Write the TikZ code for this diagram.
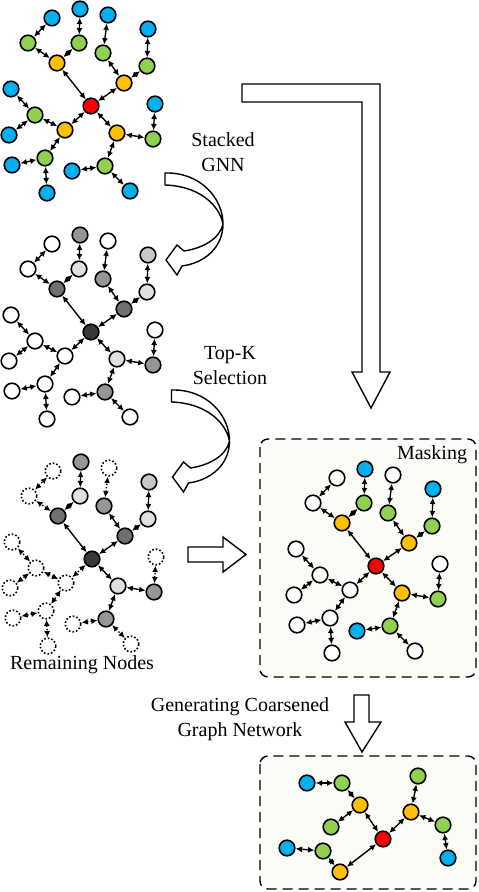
\documentclass[tikz,border=0pt]{standalone}
\usepackage{fontspec}
\setmainfont{Liberation Serif}
\usepackage{xcolor}
\usepackage{tikz}
\usetikzlibrary{arrows.meta}
\definecolor{nodeblue}{RGB}{0,176,240}
\definecolor{nodegreen}{RGB}{146,208,80}
\definecolor{nodeorange}{RGB}{255,192,0}
\definecolor{nodered}{RGB}{255,0,0}
\definecolor{shadedark}{RGB}{56,56,56}
\definecolor{shademid}{RGB}{112,112,112}
\definecolor{shadegray}{RGB}{150,150,150}
\definecolor{shadesoft}{RGB}{200,200,200}
\definecolor{shadelight}{RGB}{224,224,224}
\definecolor{boxfill}{RGB}{252,252,247}
\newcommand{\treeedges}{c/o1,c/o2,c/o3,c/o4,o1/g1,o1/g2,o2/g3,o2/g4,o3/g5,o3/g6,o4/g7,o4/g8,
  g1/b1,g2/b2,g3/b3,g4/b4,g5/b5,g5/b6,g6/b7,g6/b8,g7/b9,g8/b10,g8/b11}

\begin{document}
\begin{tikzpicture}[
  x=0.5pt, y=-0.5pt,
  vtx/.style={circle, draw, line width=0.8pt, minimum size=7.8pt, inner sep=0pt},
  ghost/.style={vtx, fill=white, densely dotted},
  link/.style={{Latex[length=3.2pt,width=3pt]}-{Latex[length=3.2pt,width=3pt]}, line width=0.7pt},
  dlink/.style={link, densely dotted},
  panel/.style={draw, dash pattern=on 5pt off 3pt, line width=0.7pt, rounded corners=4pt, fill=boxfill},
  blk/.style={draw, fill=white, line width=0.7pt, line join=miter},
  lbl/.style={align=center, font=\fontsize{10}{12.5}\selectfont}
]
  \useasboundingbox (0,0) rectangle (478,892);

  \draw[panel] (260,439) rectangle (476,677);
  \draw[panel] (260,756) rectangle (476,889);

  % input graph
  \foreach \n/\x/\y/\f in {c/91/106/nodered, o1/57/63/nodeorange, o2/124/83/nodeorange,
      o3/65/130/nodeorange, o4/117/133/nodeorange, g1/28/43/nodegreen, g2/79/43/nodegreen,
      g3/103/53/nodegreen, g4/147/66/nodegreen, g5/35/115/nodegreen, g6/45/158/nodegreen,
      g7/153/139/nodegreen, g8/105/166/nodegreen, b1/52/18/nodeblue, b2/80/9/nodeblue,
      b3/108/15/nodeblue, b4/148/29/nodeblue, b5/11/89/nodeblue, b6/9/135/nodeblue,
      b7/12/165/nodeblue, b8/47/193/nodeblue, b9/155/104/nodeblue, b10/72/171/nodeblue,
      b11/130/191/nodeblue}
    \node[vtx, fill=\f] (in-\n) at (\x,\y) {};
  \foreach \u/\v in \treeedges
    \draw[link] (in-\u) -- (in-\v);

  % scored graph
  \begin{scope}[shift={(0,226)}]
    \foreach \n/\x/\y/\f in {c/91/106/shadedark, o1/57/63/shademid, o2/124/83/shademid,
        o3/65/130/white, o4/117/133/shadelight, g1/28/43/white, g2/79/43/shadelight,
        g3/103/53/shadegray, g4/147/66/shadelight, g5/35/115/white, g6/45/158/white,
        g7/153/139/shadegray, g8/105/166/shadegray, b1/52/18/white, b2/80/9/shadegray,
        b3/108/15/white, b4/148/29/shadesoft, b5/11/89/white, b6/9/135/white,
        b7/12/165/white, b8/47/193/white, b9/155/104/white, b10/72/171/white,
        b11/130/191/white}
      \node[vtx, fill=\f] (sc-\n) at (\x,\y) {};
    \foreach \u/\v in \treeedges
      \draw[link] (sc-\u) -- (sc-\v);
  \end{scope}

  % remaining nodes
  \begin{scope}[shift={(1,453)}]
    \foreach \n/\x/\y/\f in {c/91/106/shadedark, o1/57/63/shademid, o2/124/83/shademid,
        o4/117/133/shadelight, g2/79/43/shadelight, g3/103/53/shadegray,
        g4/147/66/shadelight, g7/153/139/shadegray, g8/105/166/shadegray,
        b2/80/9/shadegray, b4/148/29/shadesoft}
      \node[vtx, fill=\f] (rm-\n) at (\x,\y) {};
    \foreach \n/\x/\y in {o3/65/130, g1/28/43, g5/35/115, g6/45/158, b1/52/18, b3/108/15,
        b5/11/89, b6/9/135, b7/12/165, b8/47/193, b9/155/104, b10/72/171, b11/130/191}
      \node[ghost] (rm-\n) at (\x,\y) {};
    \foreach \u/\v in {c/o1, c/o2, c/o4, o1/g2, g2/b2, o2/g3, o2/g4, g4/b4, o4/g7, o4/g8}
      \draw[link] (rm-\u) -- (rm-\v);
    \foreach \u/\v in {c/o3, o1/g1, g1/b1, g3/b3, o3/g5, o3/g6, g5/b5, g5/b6, g6/b7,
        g6/b8, g7/b9, g8/b10, g8/b11}
      \draw[dlink] (rm-\u) -- (rm-\v);
  \end{scope}

  % masked graph
  \begin{scope}[shift={(285,460)}]
    \foreach \n/\x/\y/\f in {c/91/106/nodered, o1/57/63/nodeorange, o2/124/83/nodeorange,
        o3/65/130/white, o4/117/133/nodeorange, g1/28/43/white, g2/79/43/nodegreen,
        g3/103/53/nodegreen, g4/147/66/nodegreen, g5/35/115/white, g6/45/158/white,
        g7/153/139/nodegreen, g8/105/166/nodegreen, b1/52/18/white, b2/80/9/nodeblue,
        b3/108/15/white, b4/148/29/nodeblue, b5/11/89/white, b6/9/135/white,
        b7/12/165/white, b8/47/193/white, b9/155/104/white, b10/72/171/nodeblue,
        b11/130/191/white}
      \node[vtx, fill=\f] (mk-\n) at (\x,\y) {};
    \foreach \u/\v in \treeedges
      \draw[link] (mk-\u) -- (mk-\v);
  \end{scope}

  % coarsened graph
  \foreach \n/\x/\y/\f in {c/383/839/nodered, o1/360/805/nodeorange, o2/411/812/nodeorange,
      o3/340/872/nodeorange, g1/342/783/nodegreen, g2/331/827/nodegreen,
      g3/418/776/nodegreen, g4/443/825/nodegreen, g5/323/851/nodegreen,
      b1/307/783/nodeblue, b2/448/858/nodeblue, b3/287/848/nodeblue}
    \node[vtx, fill=\f] (cg-\n) at (\x,\y) {};
  \foreach \u/\v in {c/o1, c/o2, c/o3, o1/g1, o1/g2, g1/b1, o2/g3, o2/g4, g4/b2, o3/g5, g5/b3}
    \draw[link] (cg-\u) -- (cg-\v);

  % block arrows
  \draw[blk] (242,84) -- (380,84) -- (380,372) -- (390,372) -- (371,408) -- (352,372)
    -- (362,372) -- (362,102) -- (242,102) -- cycle;
  \draw[blk] (188,547) -- (223,547) -- (223,537) -- (246,554.5) -- (223,572) -- (223,562)
    -- (188,562) -- cycle;
  \draw[blk] (354,695) -- (369,695) -- (369,722) -- (381,722) -- (362,752) -- (345,722)
    -- (354,722) -- cycle;
  \foreach \dx/\dy in {0/0, 6.5/217} {
    \begin{scope}[shift={(\dx,\dy)}]
      \draw[blk] (165,173) .. controls (200,172) and (223,198) .. (223,224)
        .. controls (219,204) and (198,186) .. (165,185) -- cycle;
      \draw[blk] (223,224) .. controls (223,247) and (205,263) .. (182,266) -- (177,275)
        -- (166,260) -- (177,245) -- (184,251) .. controls (204,248) and (220,238) .. (223,224);
    \end{scope}
  }

  \node[lbl] (gnn) at (223,152) {Stacked\\GNN};
  \node[lbl] (topk) at (230,366) {Top-K\\Selection};
  \node[lbl] (remain) at (82,665) {Remaining Nodes};
  \node[lbl] (mask) at (432,455) {Masking};
  \node[lbl] (coarse) at (240,719) {Generating Coarsened\\Graph Network};
\end{tikzpicture}
\end{document}
